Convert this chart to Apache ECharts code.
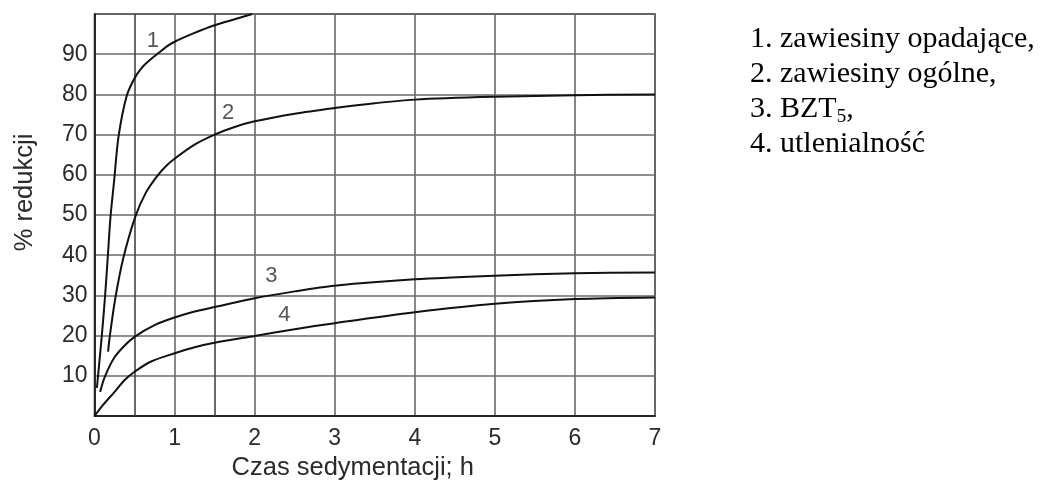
<!DOCTYPE html>
<html>
<head>
<meta charset="utf-8">
<script src="https://cdn.jsdelivr.net/npm/echarts@6/dist/echarts.min.js"></script>
<style>
html,body{margin:0;padding:0;background:#fff;}
#chart{width:1044px;height:487px;}
</style>
</head>
<body>
<div id="chart"></div>
<script>
// ---- data ----
var xTicks = [0, 1, 2, 3, 4, 5, 6, 7];
var halfHourLines = [0.5, 1.5];
var curve1 = [[0.03,7],[0.09,19.7],[0.13,29.3],[0.165,39.3],[0.2,49.6],[0.245,58.5],[0.3,69.5],[0.4,79.5],[0.5,84],[0.59,86.6],[0.7,88.7],[0.8,90.3],[0.9,91.9],[1.0,93.1],[1.25,95.3],[1.5,97.2],[1.75,98.7],[1.97,100]];
var curve2 = [[0.17,16],[0.19,19.7],[0.26,29.3],[0.36,39.3],[0.51,49.6],[0.64,55.5],[0.78,59.6],[0.9,62.3],[1.0,64],[1.25,67.5],[1.5,70],[1.75,71.9],[2,73.3],[2.5,75.2],[3,76.6],[3.5,77.8],[4,78.7],[5,79.4],[6,79.8],[7,80]];
var curve3 = [[0.07,6],[0.13,9.8],[0.25,14.6],[0.38,17.6],[0.5,19.7],[0.75,22.6],[1.0,24.5],[1.25,26],[1.5,27.1],[2,29.3],[2.5,31],[3,32.4],[4,34],[5,34.9],[6,35.5],[7,35.7]];
var curve4 = [[0,0],[0.1,2.6],[0.26,6.2],[0.38,9],[0.5,11],[0.7,13.5],[1.0,15.6],[1.25,17.1],[1.5,18.2],[2,19.9],[2.5,21.6],[3,23.1],[4,25.8],[5,27.9],[6,29.1],[7,29.5]];
var curveNames = ['1', '2', '3', '4'];
var labelX = [0.73, 1.67, 2.21, 2.37];
var labelY = [93.3, 75.4, 34.9, 25.1];
var legendLines = ['1. zawiesiny opadające,', '2. zawiesiny ogólne,', '3. BZT', '4. utlenialność'];
var legendSub = '5';

var chart = echarts.init(document.getElementById('chart'), null, {renderer: 'canvas'});
var sans = 'Liberation Sans, Arial, sans-serif';
var serif = 'Liberation Serif, Times New Roman, serif';
var gridColor = '#6a6a6a';
var textColor = '#2a2a2a';

function curveSeries(data, name) {
  return {
    type: 'line', name: name, data: data, smooth: 0.3, showSymbol: false,
    lineStyle: {color: '#111', width: 2}, z: 5, silent: true
  };
}

var labelData = curveNames.map(function (n, i) { return {name: n, value: [labelX[i], labelY[i]]}; });

var option = {
  backgroundColor: '#ffffff',
  animation: false,
  textStyle: {fontFamily: sans},
  title: {
    left: 750, top: 22, padding: 0,
    text: '{n|' + legendLines[0] + '}\n{n|' + legendLines[1] + '}\n{n|' + legendLines[2] + '}{s|' + legendSub + '}{n|,}\n{n|' + legendLines[3] + '}',
    textStyle: {
      fontWeight: 'normal', fontFamily: serif,
      rich: {
        n: {fontFamily: serif, fontWeight: 'normal', fontSize: 30, lineHeight: 35, color: '#000'},
        s: {fontFamily: serif, fontWeight: 'normal', fontSize: 19, lineHeight: 20, verticalAlign: 'bottom', color: '#000'}
      }
    }
  },
  grid: {left: 94.5, right: 389, top: 14, bottom: 71, show: true, borderColor: '#222', borderWidth: 1.5, backgroundColor: 'transparent'},
  xAxis: {
    type: 'value', min: 0, max: 7, interval: 1,
    name: 'Czas sedymentacji; h', nameLocation: 'middle', nameGap: 35,
    nameTextStyle: {fontSize: 25.5, color: textColor, fontFamily: sans, padding: [0, 44, 0, 0]},
    axisLine: {show: true, lineStyle: {color: '#111', width: 1.5}},
    axisTick: {show: false},
    axisLabel: {fontSize: 23, color: textColor, margin: 11, fontFamily: sans},
    splitLine: {show: true, lineStyle: {color: gridColor, width: 1.6}}
  },
  yAxis: {
    type: 'value', min: 0, max: 100, interval: 10,
    name: '% redukcji', nameLocation: 'middle', nameGap: 57, nameRotate: 90,
    nameTextStyle: {fontSize: 25.5, color: textColor, fontFamily: sans, padding: [0, 0, 0, 45]},
    axisLine: {show: true, lineStyle: {color: '#111', width: 1.5}},
    axisTick: {show: false},
    axisLabel: {fontSize: 23, color: textColor, margin: 7, fontFamily: sans,
      formatter: function (v) { return (v === 0 || v === 100) ? '' : String(v); }},
    splitLine: {show: true, lineStyle: {color: gridColor, width: 1.6}}
  },
  series: [
    curveSeries(curve1, curveNames[0]),
    curveSeries(curve2, curveNames[1]),
    curveSeries(curve3, curveNames[2]),
    curveSeries(curve4, curveNames[3]),
    {
      type: 'line', data: [], silent: true,
      markLine: {
        symbol: 'none', silent: true, label: {show: false},
        lineStyle: {color: '#444', width: 1.6, type: 'solid'},
        data: halfHourLines.map(function (x) { return {xAxis: x}; })
      }
    },
    {
      type: 'scatter', data: labelData, symbolSize: 0, silent: true, z: 6,
      label: {show: true, position: 'inside', formatter: '{b}', fontSize: 22, color: textColor, fontFamily: sans}
    }
  ]
};
chart.setOption(option);
</script>
</body>
</html>
